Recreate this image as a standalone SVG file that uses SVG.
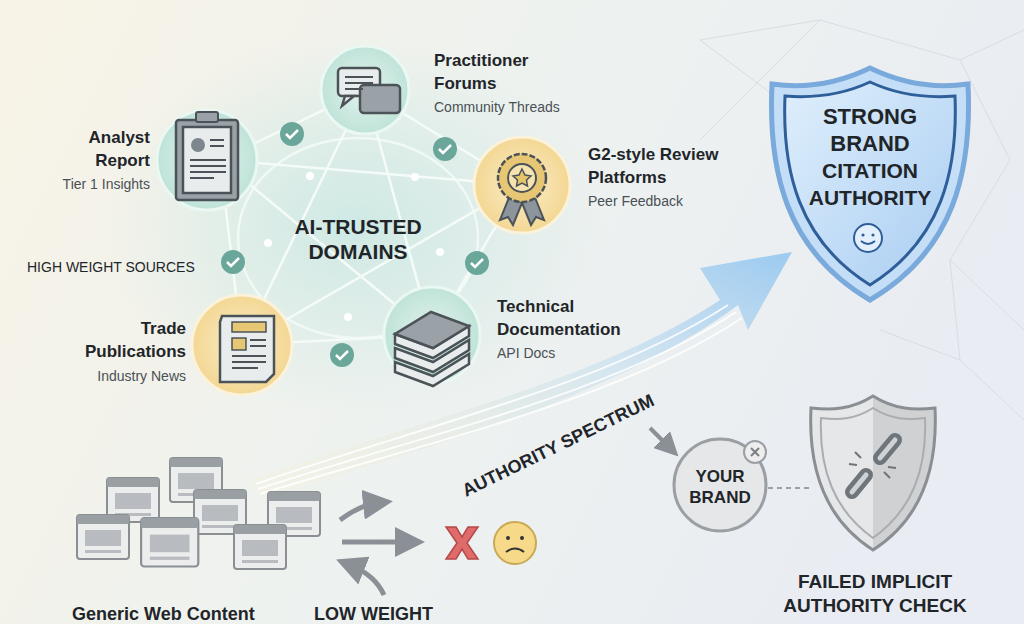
<svg xmlns="http://www.w3.org/2000/svg" width="1024" height="624" viewBox="0 0 1024 624">
<defs>
<linearGradient id="bg" x1="0" y1="0" x2="1" y2="0.3"><stop offset="0" stop-color="#f8f3e6"/><stop offset="0.5" stop-color="#eef2ef"/><stop offset="1" stop-color="#e9edf3"/></linearGradient>
<radialGradient id="glow" cx="0.5" cy="0.5" r="0.5"><stop offset="0" stop-color="#cfe9e4"/><stop offset="1" stop-color="#cfe9e4" stop-opacity="0"/></radialGradient>
<radialGradient id="tealN" cx="0.5" cy="0.5" r="0.5"><stop offset="0" stop-color="#e3f3ee"/><stop offset="1" stop-color="#bfe3d8"/></radialGradient>
<radialGradient id="goldN" cx="0.5" cy="0.5" r="0.5"><stop offset="0" stop-color="#fbeecb"/><stop offset="1" stop-color="#f3d793"/></radialGradient>
<linearGradient id="shield" x1="0" y1="0" x2="1" y2="1"><stop offset="0" stop-color="#dfeffc"/><stop offset="1" stop-color="#a9cdf2"/></linearGradient>
<linearGradient id="arrowG" x1="0" y1="1" x2="1" y2="0"><stop offset="0" stop-color="#fbf1cf" stop-opacity="0.2"/><stop offset="0.6" stop-color="#cfe3ef" stop-opacity="0.8"/><stop offset="1" stop-color="#9ccaf0"/></linearGradient>
<linearGradient id="gshield" x1="0" y1="0" x2="1" y2="0"><stop offset="0" stop-color="#e6e7e8"/><stop offset="0.5" stop-color="#e6e7e8"/><stop offset="0.5" stop-color="#cfd1d3"/><stop offset="1" stop-color="#cfd1d3"/></linearGradient>
<marker id="ah" markerWidth="6" markerHeight="6" refX="3" refY="3" orient="auto"><path d="M0,0 L6,3 L0,6 z" fill="#8a9096"/></marker>
<g id="win"><rect x="0" y="0" width="52" height="44" rx="3" fill="#eceded" stroke="#8a8f94" stroke-width="2"/><rect x="0" y="0" width="52" height="9" rx="2" fill="#9a9fa4"/><rect x="8" y="15" width="36" height="16" fill="#b8bcc0"/><rect x="8" y="35" width="36" height="3" fill="#b8bcc0"/></g>
</defs>
<style>
text{font-family:"Liberation Sans","DejaVu Sans",sans-serif;fill:#1f2529}
.t{font-weight:bold;font-size:17px}
.s{font-size:14px;fill:#4a5055}
.ln{stroke:#f4fbf8;stroke-width:2.5;fill:none}
.chk circle{fill:#6aa79a}
.chk path{stroke:#fff;stroke-width:2.5;fill:none}
.ic{fill:#e8ecec;stroke:#4b5358;stroke-width:2.5}
.str{fill:none;stroke:#ffffff;stroke-width:2;opacity:0.85}
</style>
<rect width="1024" height="624" fill="url(#bg)"/>
<g stroke="#d3d8de" stroke-width="1" fill="none" opacity="0.8">
<path d="M700,40 L820,20 L960,60 L1024,30 M780,100 L700,40 M960,60 L1010,160 L950,260 L1024,330 M950,260 L960,360 L880,330 M960,360 L1024,420 M700,140 L820,20"/>
</g>
<ellipse cx="355" cy="225" rx="250" ry="190" fill="url(#glow)"/>
<g id="connectors">
<path class="ln" d="M220,160 L365,90 L520,185 L432,335 L242,345 Z"/>
<path class="ln" d="M220,160 L520,185 M365,90 L242,345 M365,90 L432,335 M220,160 L432,335 M520,185 L242,345"/>
<ellipse class="ln" cx="358" cy="238" rx="120" ry="100" opacity="0.8"/>
<g fill="#ffffff"><circle cx="310" cy="176" r="4"/><circle cx="415" cy="177" r="4"/><circle cx="268" cy="243" r="4"/><circle cx="440" cy="252" r="4"/><circle cx="348" cy="317" r="4"/></g>
</g>
<g class="chk">
<g><circle cx="292" cy="134" r="12"/><path d="M286,134 l4,4 l8,-8"/></g>
<g><circle cx="445" cy="149" r="12"/><path d="M439,149 l4,4 l8,-8"/></g>
<g><circle cx="233" cy="262" r="12"/><path d="M227,262 l4,4 l8,-8"/></g>
<g><circle cx="477" cy="263" r="12"/><path d="M471,263 l4,4 l8,-8"/></g>
<g><circle cx="342" cy="355" r="12"/><path d="M336,355 l4,4 l8,-8"/></g>
</g>
<g id="spectrum">
<path d="M250,480 C420,420 600,380 720,300 L700,268 L792,252 L748,330 L738,305 C610,400 420,450 262,498 Z" fill="url(#arrowG)"/>
<path class="str" d="M256,484 C425,425 605,385 728,305"/>
<path class="str" d="M258,489 C430,433 612,394 736,312"/>
<path class="str" d="M260,494 C435,440 618,400 742,318"/>
<text x="0" y="0" font-weight="bold" font-size="18" fill="#2e3a52" transform="translate(466,497) rotate(-26)">AUTHORITY SPECTRUM</text>
</g>
<g id="forums">
<circle cx="365" cy="90" r="44" fill="url(#tealN)" stroke="#eaf7f3" stroke-width="3"/>
<rect class="ic" x="338" y="68" width="42" height="28" rx="4"/><path class="ic" d="M345,96 l-3,10 l12,-10z"/>
<rect x="360" y="85" width="40" height="28" rx="4" fill="#9aa2a8" stroke="#4b5358" stroke-width="2.5"/>
<path d="M345,77 h28 M345,83 h28 M345,89 h18" stroke="#4b5358" stroke-width="2"/>
<text class="t" x="434" y="66">Practitioner</text><text class="t" x="434" y="89">Forums</text><text class="s" x="434" y="112">Community Threads</text>
</g>
<g id="analyst">
<circle cx="207" cy="160" r="50" fill="url(#tealN)" stroke="#eaf7f3" stroke-width="3"/>
<rect x="176" y="120" width="62" height="80" rx="3" fill="#9aa2a8" stroke="#4b5358" stroke-width="2.5"/>
<rect class="ic" x="183" y="127" width="48" height="66"/>
<rect x="196" y="112" width="22" height="10" rx="2" fill="#9aa2a8" stroke="#4b5358" stroke-width="2"/>
<circle cx="198" cy="145" r="7" fill="#7d868c"/>
<path d="M210,140 h14 M210,146 h14 M190,160 h36 M190,166 h36 M190,172 h36 M190,178 h24" stroke="#4b5358" stroke-width="2"/>
<text class="t" x="150" y="143" text-anchor="end">Analyst</text><text class="t" x="150" y="166" text-anchor="end">Report</text><text class="s" x="150" y="189" text-anchor="end">Tier 1 Insights</text>
</g>
<g id="g2">
<circle cx="522" cy="185" r="48" fill="url(#goldN)" stroke="#fbf2dc" stroke-width="3"/>
<path d="M510,195 l-10,25 l8,-3 l5,8 l9,-22z M534,195 l10,25 l-8,-3 l-5,8 l-9,-22z" fill="#8c959b" stroke="#4b5358" stroke-width="2"/>
<circle cx="522" cy="178" r="24" fill="#e8c774" stroke="#4b5358" stroke-width="2.5" stroke-dasharray="6 2"/>
<circle cx="522" cy="178" r="14" fill="#f6e4b0" stroke="#4b5358" stroke-width="2"/>
<path d="M522,169 l3,6 l6,1 l-4.5,4 l1,6 l-5.5,-3 l-5.5,3 l1,-6 l-4.5,-4 l6,-1z" fill="#e6c46a" stroke="#4b5358" stroke-width="1.5"/>
<text class="t" x="588" y="160">G2-style Review</text><text class="t" x="588" y="183">Platforms</text><text class="s" x="588" y="206">Peer Feedback</text>
</g>
<g id="trade">
<circle cx="242" cy="345" r="50" fill="url(#goldN)" stroke="#fbf2dc" stroke-width="3"/>
<path class="ic" d="M222,316 h52 v58 l-8,8 h-46 v-60 z" fill="#f3efe2"/>
<rect x="232" y="322" width="34" height="10" fill="#e8c774" stroke="#4b5358" stroke-width="1.5"/>
<rect x="232" y="338" width="14" height="12" fill="#e8c774" stroke="#4b5358" stroke-width="1.5"/>
<path d="M250,340 h16 M250,346 h16 M232,356 h34 M232,362 h34 M232,368 h26" stroke="#4b5358" stroke-width="2"/>
<text class="t" x="186" y="334" text-anchor="end">Trade</text><text class="t" x="186" y="357" text-anchor="end">Publications</text><text class="s" x="186" y="381" text-anchor="end">Industry News</text>
</g>
<g id="techdoc">
<circle cx="432" cy="335" r="48" fill="url(#tealN)" stroke="#eaf7f3" stroke-width="3"/>
<g stroke="#4b5358" stroke-width="2.5">
<path d="M395,372 l38,14 l36,-22 v-10 l-36,22 l-38,-14z" fill="#e8ecec"/>
<path d="M395,358 l38,14 l36,-22 v-10 l-36,22 l-38,-14z" fill="#e8ecec"/>
<path d="M395,344 l38,14 l36,-22 v-10 l-36,22 l-38,-14z" fill="#e8ecec"/>
<path d="M395,334 l38,14 l36,-22 l-38,-14z" fill="#9aa2a8"/>
</g>
<text class="t" x="497" y="312">Technical</text><text class="t" x="497" y="335">Documentation</text><text class="s" x="497" y="358">API Docs</text>
</g>
<text x="358" y="234" text-anchor="middle" font-weight="bold" font-size="21">AI-TRUSTED</text>
<text x="358" y="259" text-anchor="middle" font-weight="bold" font-size="21">DOMAINS</text>
<text x="27" y="272" font-size="14" fill="#3a4045">HIGH WEIGHT SOURCES</text>
<g id="strong">
<path d="M870,68 C905,85 940,88 968,84 C972,170 955,250 870,300 C785,250 768,170 772,84 C800,88 835,85 870,68 Z" fill="#c5def7" stroke="#7aa9dc" stroke-width="5"/>
<path d="M870,82 C900,96 930,98 955,96 C958,170 942,240 870,285 C798,240 782,170 785,96 C810,98 840,96 870,82 Z" fill="url(#shield)" stroke="#2f5f9a" stroke-width="3"/>
<text x="870" y="124" text-anchor="middle" font-weight="bold" font-size="22">STRONG</text>
<text x="870" y="151" text-anchor="middle" font-weight="bold" font-size="22">BRAND</text>
<text x="870" y="178" text-anchor="middle" font-weight="bold" font-size="21">CITATION</text>
<text x="870" y="205" text-anchor="middle" font-weight="bold" font-size="21">AUTHORITY</text>
<circle cx="868" cy="238" r="14" fill="#e3f0fb" stroke="#2f5f9a" stroke-width="2"/>
<circle cx="863" cy="235" r="1.6" fill="#2f5f9a"/><circle cx="873" cy="235" r="1.6" fill="#2f5f9a"/>
<path d="M861,241 q7,6 14,0" stroke="#2f5f9a" stroke-width="2" fill="none"/>
</g>
<g id="generic">
<use href="#win" x="170" y="458"/>
<use href="#win" x="107" y="478"/>
<use href="#win" x="194" y="490"/>
<use href="#win" x="268" y="492"/>
<use href="#win" x="77" y="515"/>
<use href="#win" x="141" y="521" transform="translate(-14,-55) scale(1.1)"/>
<use href="#win" x="234" y="525"/>
<text x="72" y="620" font-weight="bold" font-size="18">Generic Web Content</text>
</g>
<g id="lowweight" stroke="#8a9096" stroke-width="5" fill="none" marker-end="url(#ah)">
<path d="M340,520 Q360,505 378,503"/>
<path d="M342,542 L410,542"/>
<path d="M384,595 Q375,575 350,565"/>
</g>
<text x="314" y="620" font-weight="bold" font-size="18" fill="#2e3a52">LOW WEIGHT</text>
<g id="fail">
<path d="M446,527 l10,0 l6,10 l6,-10 l10,0 l-11,16 l11,16 l-10,0 l-6,-10 l-6,10 l-10,0 l11,-16z" fill="#e06b6b" stroke="#b54848" stroke-width="1.5"/>
<circle cx="515" cy="543" r="21" fill="#f6da8a" stroke="#c9a954" stroke-width="2"/>
<circle cx="508" cy="538" r="2" fill="#333"/><circle cx="522" cy="538" r="2" fill="#333"/>
<path d="M506,552 q9,-7 18,0" stroke="#333" stroke-width="2" fill="none"/>
</g>
<path d="M650,428 L670,448" stroke="#8a9096" stroke-width="4" marker-end="url(#ah)"/>
<g id="yourbrand">
<circle cx="720" cy="485" r="46" fill="#e6e7e8" stroke="#9a9fa4" stroke-width="3"/>
<text x="720" y="482" text-anchor="middle" font-size="17" font-weight="bold" fill="#2b3035">YOUR</text>
<text x="720" y="503" text-anchor="middle" font-size="17" font-weight="bold" fill="#2b3035">BRAND</text>
<circle cx="755" cy="452" r="11" fill="#eeeeef" stroke="#9a9fa4" stroke-width="2"/>
<path d="M751,448 l8,8 M759,448 l-8,8" stroke="#7a7f84" stroke-width="2"/>
</g>
<path d="M768,488 L812,488" stroke="#9a9fa4" stroke-width="2" stroke-dasharray="5 4"/>
<g id="weakshield">
<path d="M873,396 C895,410 915,410 935,408 C938,470 920,520 873,550 C826,520 808,470 811,408 C831,410 851,410 873,396 Z" fill="url(#gshield)" stroke="#8a8f94" stroke-width="3"/>
<path d="M873,408 C892,420 908,420 925,418 C927,470 912,510 873,538 C834,510 819,470 821,418 C838,420 854,420 873,408 Z" fill="none" stroke="#a9adb1" stroke-width="2"/>
<g fill="none" stroke="#6e757b" stroke-width="14" stroke-linecap="round">
<path d="M880,458 L895,440"/><path d="M852,492 L866,475"/>
</g>
<g fill="none" stroke="#d0d3d6" stroke-width="5" stroke-linecap="round"><path d="M880,458 L895,440"/><path d="M852,492 L866,475"/></g>
<path d="M855,452 l6,6 M849,464 l8,1 M890,478 l-6,-6 M896,468 l-8,-1" stroke="#6e757b" stroke-width="2"/>
<text x="875" y="588" text-anchor="middle" font-weight="bold" font-size="19">FAILED IMPLICIT</text>
<text x="875" y="612" text-anchor="middle" font-weight="bold" font-size="19">AUTHORITY CHECK</text>
</g>
</svg>
